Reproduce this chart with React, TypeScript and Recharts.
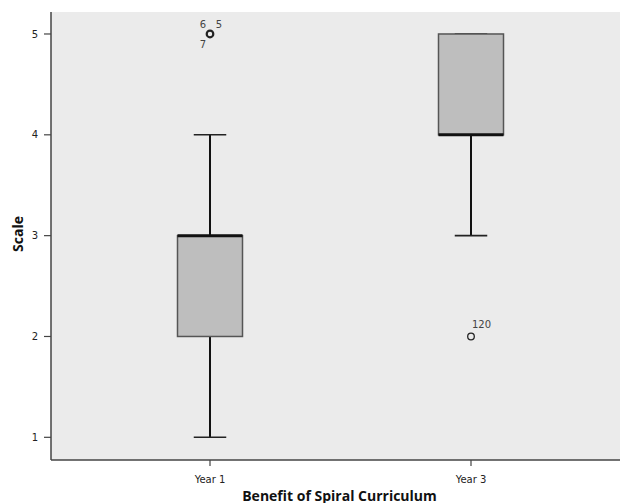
import React from 'react';
import { ComposedChart, Bar, Scatter, XAxis, YAxis, CartesianGrid } from 'recharts';

const categories = ['Year 1', 'Year 3'];
const whiskerLow = [1, 3];
const quartile1 = [2, 4];
const medians = [3, 4];
const quartile3 = [3, 5];
const whiskerHigh = [4, 5];
const outlierValues = [5, 2];
const outlierLabels = [['6', '5', '7'], ['120']];
const yTicks = [1, 2, 3, 4, 5];

const labelPlacement: Record<string, { dx: number; dy: number; anchor: string }[]> = {
  'Year 1': [
    { dx: -7, dy: -9, anchor: 'middle' },
    { dx: 9, dy: -9, anchor: 'middle' },
    { dx: -7, dy: 11, anchor: 'middle' },
  ],
  'Year 3': [{ dx: 1, dy: -12, anchor: 'start' }],
};

const rows = categories.map((c, i) => ({
  cat: c,
  low: whiskerLow[i],
  q1: quartile1[i],
  med: medians[i],
  q3: quartile3[i],
  high: whiskerHigh[i],
  outlier: outlierValues[i],
  labels: outlierLabels[i],
}));

const BoxShape = (props: any) => {
  const { x, y, width, height, payload } = props;
  const top = Math.min(y, y + height);
  const h = Math.abs(height);
  const { low, q1, med, q3, high } = payload;
  const ppu = h / (high - low);
  const py = (v: number) => top + (high - v) * ppu;
  const cx = x + width / 2;
  const capHalf = width / 4;
  return (
    <g>
      <line x1={cx} x2={cx} y1={py(high)} y2={py(q3)} stroke="#111" strokeWidth={2} />
      <line x1={cx} x2={cx} y1={py(q1)} y2={py(low)} stroke="#111" strokeWidth={2} />
      <line x1={cx - capHalf} x2={cx + capHalf} y1={py(high)} y2={py(high)} stroke="#222" strokeWidth={1.6} />
      <line x1={cx - capHalf} x2={cx + capHalf} y1={py(low)} y2={py(low)} stroke="#222" strokeWidth={1.6} />
      <rect x={x} y={py(q3)} width={width} height={py(q1) - py(q3)} fill="#bebebe" stroke="#555" strokeWidth={1.5} />
      <line x1={x} x2={x + width} y1={py(med)} y2={py(med)} stroke="#111" strokeWidth={3} />
    </g>
  );
};

const OutlierShape = (props: any) => {
  const { cx, cy, payload } = props;
  const labels: string[] = payload.labels;
  const places = labelPlacement[payload.cat] || [];
  return (
    <g>
      <circle cx={cx} cy={cy} r={3.3} fill="none" stroke="#222" strokeWidth={labels.length > 1 ? 2.2 : 1.3} />
      {labels.map((l, i) => (
        <text
          key={i}
          x={cx + (places[i]?.dx ?? 8)}
          y={cy + (places[i]?.dy ?? -10)}
          textAnchor={(places[i]?.anchor as any) ?? 'start'}
          dominantBaseline="central"
          fontSize={10}
          fontFamily="DejaVu Sans"
          fill="#444"
        >
          {l}
        </text>
      ))}
    </g>
  );
};

export default function App() {
  return (
    <div style={{ position: 'absolute', left: 0, top: 0, background: '#fff' }}>
      <ComposedChart width={620} height={503} data={rows} margin={{ top: 12, right: 0, left: 0, bottom: 0 }}>
        <CartesianGrid horizontal={false} vertical={false} fill="#ebebeb" stroke="none" />
        <XAxis
          dataKey="cat"
          xAxisId="bottom"
          height={43}
          padding={{ left: 28.5, right: 18.5 }}
          tickSize={6}
          tickMargin={10}
          axisLine={{ stroke: '#444', strokeWidth: 1.5 }}
          tickLine={{ stroke: '#444', strokeWidth: 1.2 }}
          tick={{ fontSize: 10, fontFamily: 'DejaVu Sans', fill: '#222' }}
          label={{
            content: ({ viewBox }: any) => (
              <text
                x={viewBox.x + viewBox.width / 2 + 4}
                y={viewBox.y + 41}
                textAnchor="middle"
                fontSize={14}
                fontWeight="bold"
                fontFamily="Open Sans"
                fill="#111"
              >
                Benefit of Spiral Curriculum
              </text>
            ),
          }}
        />
        <XAxis
          dataKey="cat"
          xAxisId="top"
          orientation="top"
          height={0}
          tick={false}
          tickLine={false}
          axisLine={{ stroke: '#555', strokeWidth: 2 }}
        />
        <YAxis
          type="number"
          width={51}
          domain={[0.775, 5.218]}
          allowDataOverflow
          ticks={yTicks}
          tickSize={7}
          tickMargin={6}
          axisLine={{ stroke: '#444', strokeWidth: 1.5 }}
          tickLine={{ stroke: '#444', strokeWidth: 1.2 }}
          tick={{ fontSize: 10, fontFamily: 'DejaVu Sans', fill: '#222' }}
          label={{
            content: ({ viewBox }: any) => {
              const x = 17;
              const y = viewBox.y + viewBox.height / 2 - 2;
              return (
                <text
                  x={x}
                  y={y}
                  transform={`rotate(-90, ${x}, ${y})`}
                  textAnchor="middle"
                  dominantBaseline="central"
                  fontSize={14}
                  fontWeight="bold"
                  fontFamily="Open Sans"
                  fill="#111"
                >
                  Scale
                </text>
              );
            },
          }}
        />
        <Bar
          xAxisId="bottom"
          dataKey={(d: any) => [d.low, d.high]}
          barSize={65}
          shape={<BoxShape />}
          isAnimationActive={false}
        />
        <Scatter xAxisId="bottom" dataKey="outlier" shape={<OutlierShape />} isAnimationActive={false} />
      </ComposedChart>
    </div>
  );
}
